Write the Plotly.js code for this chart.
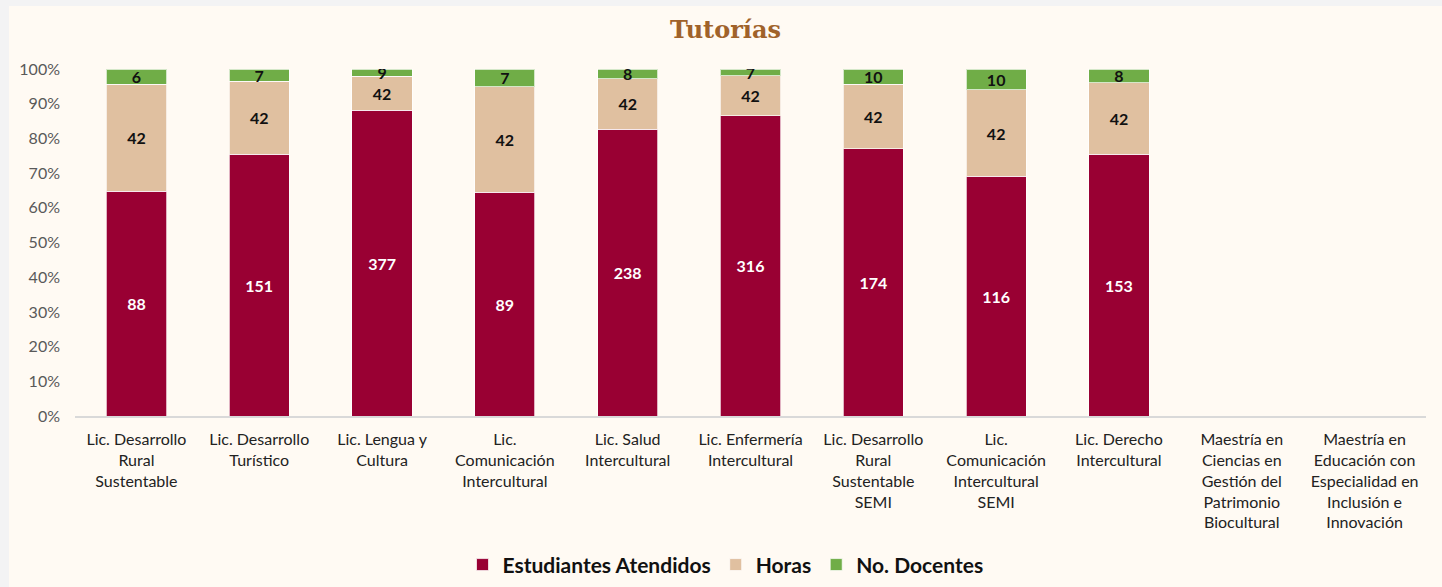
<!DOCTYPE html>
<html>
<head>
<meta charset="utf-8">
<script src="https://cdn.plot.ly/plotly-3.0.1.min.js"></script>
<style>
html,body{margin:0;padding:0;background:#f3f3f4;width:1442px;height:587px;overflow:hidden;}
#chart{position:absolute;left:9px;top:6px;width:1433px;height:581px;}
</style>
</head>
<body>
<div id="chart"></div>
<script>
const categories = [
  "Lic. Desarrollo<br>Rural<br>Sustentable",
  "Lic. Desarrollo<br>Turístico",
  "Lic. Lengua y<br>Cultura",
  "Lic.<br>Comunicación<br>Intercultural",
  "Lic. Salud<br>Intercultural",
  "Lic. Enfermería<br>Intercultural",
  "Lic. Desarrollo<br>Rural<br>Sustentable<br>SEMI",
  "Lic.<br>Comunicación<br>Intercultural<br>SEMI",
  "Lic. Derecho<br>Intercultural",
  "Maestría en<br>Ciencias en<br>Gestión del<br>Patrimonio<br>Biocultural",
  "Maestría en<br>Educación con<br>Especialidad en<br>Inclusión e<br>Innovación"
];
const estudiantes = [88, 151, 377, 89, 238, 316, 174, 116, 153, 0, 0];
const horas       = [42, 42, 42, 42, 42, 42, 42, 42, 42, 0, 0];
const docentes    = [6, 7, 9, 7, 8, 7, 10, 10, 8, 0, 0];
const seriesNames = ["Estudiantes Atendidos", "Horas", "No. Docentes"];
const colors = ["#990033", "#e0c0a0", "#70ad47"];
const textColors = ["#ffffff", "#111111", "#111111"];

const font = "Lato, 'Open Sans', sans-serif";
const seriesVals = [estudiantes, horas, docentes];
const traces = seriesVals.map((vals, i) => ({
  type: "bar",
  name: seriesNames[i],
  x: categories,
  y: vals,
  marker: {color: colors[i], line: {color: "rgba(255,255,255,0.7)", width: 1}},
  text: vals.map(v => v === 0 ? "" : String(v)),
  textposition: "inside",
  insidetextanchor: "middle",
  textangle: 0,
  constraintext: "none",
  textfont: {family: font, size: 16, color: textColors[i], weight: "bold"},
  hoverinfo: "skip"
}));

const layout = {
  barmode: "stack",
  barnorm: "percent",
  bargap: 0.51,
  paper_bgcolor: "#fffaf3",
  plot_bgcolor: "#fffaf3",
  margin: {l: 66, r: 16, t: 63, b: 171},
  title: {
    text: "<b>Tutorías</b>",
    font: {family: "'DejaVu Serif', 'Liberation Serif', serif", size: 24, color: "#a0622a"},
    x: 0.5, xref: "container", xanchor: "center", y: 0.96, yanchor: "middle"
  },
  showlegend: true,
  legend: {
    orientation: "h",
    x: 0.5, xref: "container", xanchor: "center",
    y: 0.038, yref: "container", yanchor: "middle",
    font: {family: font, size: 21, color: "#111111", weight: "bold"},
    traceorder: "normal"
  },
  xaxis: {
    type: "category",
    tickfont: {family: font, size: 16, color: "#222222"},
    showline: true, linecolor: "#d9d9d9", linewidth: 2,
    ticks: "", showgrid: false, zeroline: false,
    ticklabelstandoff: 8,
    automargin: false
  },
  yaxis: {
    range: [0, 100],
    dtick: 10,
    ticksuffix: "%",
    tickfont: {family: font, size: 16, color: "#595959"},
    showgrid: false, zeroline: false, showline: false,
    ticks: "", ticklabelstandoff: 14,
    automargin: false
  }
};

Plotly.newPlot("chart", traces, layout, {displayModeBar: false, staticPlot: true});
</script>
</body>
</html>
